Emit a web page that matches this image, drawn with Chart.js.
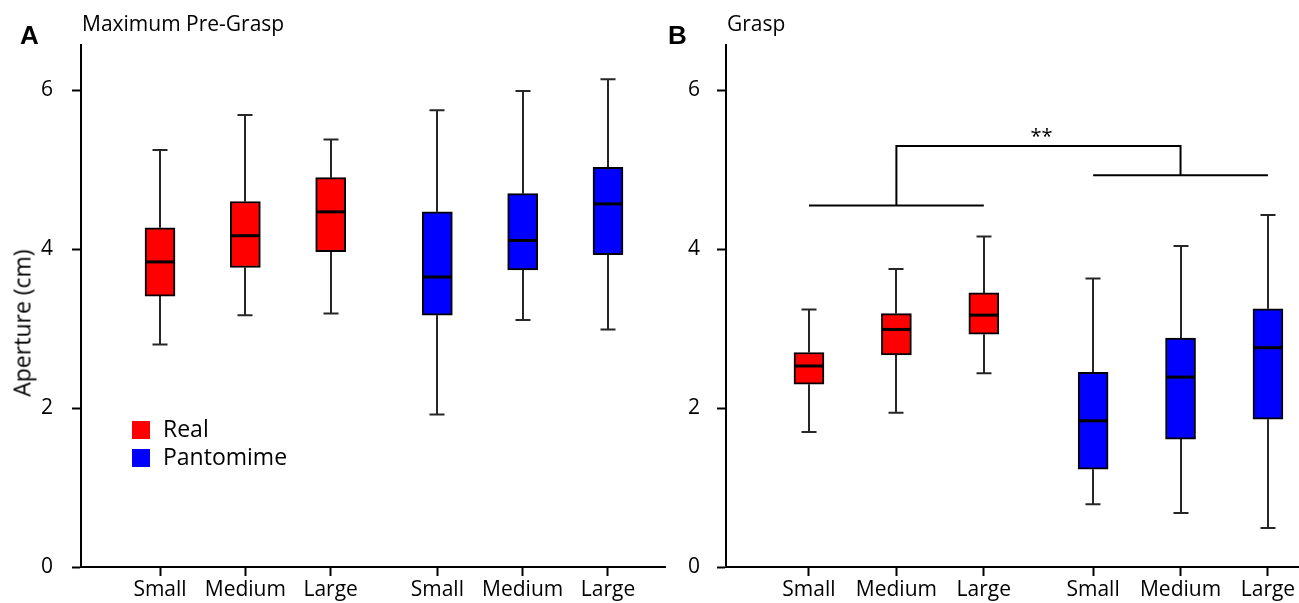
<!DOCTYPE html>
<html>
<head>
<meta charset="utf-8">
<script src="https://cdn.jsdelivr.net/npm/chart.js@4/dist/chart.umd.min.js"></script>
<style>
  html, body { margin: 0; padding: 0; background: #fff; }
  body { width: 1299px; height: 603px; position: relative; overflow: hidden; font-family: "Open Sans", sans-serif; color: #000; }
  canvas { position: absolute; top: 0; }
  #chartA { left: 0; }
  #chartB { left: 650px; }
  .txt { position: absolute; white-space: nowrap; line-height: 1; }
  .panel-letter { font-family: "Liberation Sans", Arial, sans-serif; font-weight: bold; font-size: 26px; }
  .panel-title { font-size: 21px; }
  .ytitle { font-size: 23px; transform: translate(-50%, -50%) rotate(-90deg); }
  .leg-sw { position: absolute; width: 18px; height: 18px; }
  .leg-tx { font-size: 23px; }
</style>
</head>
<body>
<canvas id="chartA" width="680" height="603"></canvas>
<canvas id="chartB" width="649" height="603"></canvas>

<div class="txt panel-letter" style="left:20px; top:22px;">A</div>
<div class="txt panel-title" style="left:82px; top:13px;">Maximum Pre-Grasp</div>
<div class="txt panel-letter" style="left:668px; top:22px;">B</div>
<div class="txt panel-title" style="left:727px; top:13px;">Grasp</div>
<div class="txt ytitle" style="left:22px; top:323px;">Aperture (cm)</div>
<div id="legend"></div>

<script>
// ---------------- DATA ----------------
const categories = ['Small', 'Medium', 'Large', 'Small', 'Medium', 'Large'];
const categoryPositions = [1, 2, 3, 4.25, 5.25, 6.25];
const realPositions = [1, 2, 3];
const pantomimePositions = [4.25, 5.25, 6.25];
const yTicks = [0, 2, 4, 6];
const yMin = 0;
const yMax = 6.57;
const seriesNames = ['Real', 'Pantomime'];
const seriesColors = ['#ff0000', '#0000ff'];

// Panel A: Maximum Pre-Grasp
const preGraspRealMin    = [2.80, 3.17, 3.19];
const preGraspRealQ1     = [3.41, 3.77, 3.97];
const preGraspRealMedian = [3.84, 4.17, 4.47];
const preGraspRealQ3     = [4.27, 4.60, 4.90];
const preGraspRealMax    = [5.25, 5.69, 5.38];

const preGraspPantMin    = [1.92, 3.11, 2.99];
const preGraspPantQ1     = [3.17, 3.74, 3.93];
const preGraspPantMedian = [3.65, 4.11, 4.57];
const preGraspPantQ3     = [4.47, 4.70, 5.03];
const preGraspPantMax    = [5.75, 5.99, 6.14];

// Panel B: Grasp
const graspRealMin    = [1.70, 1.94, 2.44];
const graspRealQ1     = [2.30, 2.67, 2.93];
const graspRealMedian = [2.53, 2.99, 3.17];
const graspRealQ3     = [2.70, 3.19, 3.45];
const graspRealMax    = [3.24, 3.75, 4.16];

const graspPantMin    = [0.79, 0.68, 0.49];
const graspPantQ1     = [1.23, 1.61, 1.86];
const graspPantMedian = [1.84, 2.39, 2.76];
const graspPantQ3     = [2.45, 2.88, 3.25];
const graspPantMax    = [3.63, 4.04, 4.43];

// Significance bracket (panel B), in data units
const bracketLeftSpan  = [1, 3];
const bracketLeftY     = 4.55;
const bracketLeftStem  = 2;
const bracketRightSpan = [4.25, 6.25];
const bracketRightY    = 4.93;
const bracketRightStem = 5.25;
const bracketTopY      = 5.30;
const sigLabel  = '**';
const sigLabelX = 3.66;
const sigLabelY = 5.34;

// ---------------- CHARTS ----------------
Chart.defaults.font.family = "'Open Sans', sans-serif";
Chart.defaults.color = '#000';

function makeDataset(label, color, positions, mins, q1, med, q3, maxs) {
  return {
    label: label,
    data: positions.map((p, i) => ({ x: p, y: [q1[i], q3[i]] })),
    backgroundColor: color,
    borderColor: '#000',
    borderWidth: 2,
    borderSkipped: false,
    barThickness: 30,
    grouped: false,
    whiskerMin: mins,
    whiskerMax: maxs,
    medians: med
  };
}

const boxWhiskerPlugin = {
  id: 'boxWhisker',
  beforeDatasetsDraw(chart) {
    const ctx = chart.ctx;
    const xs = chart.scales.x, ys = chart.scales.y;
    ctx.save();
    ctx.strokeStyle = '#262626';
    ctx.lineWidth = 2;
    chart.data.datasets.forEach(ds => {
      ds.data.forEach((d, i) => {
        const x = Math.round(xs.getPixelForValue(d.x));
        const yLo = ys.getPixelForValue(d.y[0]);
        const yHi = ys.getPixelForValue(d.y[1]);
        const yMinP = ys.getPixelForValue(ds.whiskerMin[i]);
        const yMaxP = ys.getPixelForValue(ds.whiskerMax[i]);
        ctx.beginPath();
        ctx.moveTo(x, yHi); ctx.lineTo(x, yMaxP);
        ctx.moveTo(x - 7.5, yMaxP); ctx.lineTo(x + 7.5, yMaxP);
        ctx.moveTo(x, yLo); ctx.lineTo(x, yMinP);
        ctx.moveTo(x - 7.5, yMinP); ctx.lineTo(x + 7.5, yMinP);
        ctx.stroke();
      });
    });
    ctx.restore();
  },
  afterDatasetsDraw(chart) {
    const ctx = chart.ctx;
    const xs = chart.scales.x, ys = chart.scales.y;
    ctx.save();
    ctx.strokeStyle = '#000';
    ctx.lineWidth = 3;
    chart.data.datasets.forEach(ds => {
      ds.data.forEach((d, i) => {
        const x = xs.getPixelForValue(d.x);
        const y = ys.getPixelForValue(ds.medians[i]);
        ctx.beginPath();
        ctx.moveTo(x - 14, y); ctx.lineTo(x + 14, y);
        ctx.stroke();
      });
    });
    const br = chart.options.plugins.boxWhisker && chart.options.plugins.boxWhisker.bracket;
    if (br) {
      const px = v => xs.getPixelForValue(v);
      const py = v => ys.getPixelForValue(v);
      ctx.lineWidth = 2;
      ctx.strokeStyle = '#000';
      ctx.beginPath();
      ctx.moveTo(px(bracketLeftSpan[0]), py(bracketLeftY));
      ctx.lineTo(px(bracketLeftSpan[1]), py(bracketLeftY));
      ctx.moveTo(px(bracketLeftStem), py(bracketLeftY));
      ctx.lineTo(px(bracketLeftStem), py(bracketTopY));
      ctx.lineTo(px(bracketRightStem), py(bracketTopY));
      ctx.lineTo(px(bracketRightStem), py(bracketRightY));
      ctx.moveTo(px(bracketRightSpan[0]), py(bracketRightY));
      ctx.lineTo(px(bracketRightSpan[1]), py(bracketRightY));
      ctx.stroke();
      ctx.fillStyle = '#000';
      ctx.font = "20px 'Open Sans', sans-serif";
      ctx.textAlign = 'center';
      ctx.textBaseline = 'alphabetic';
      ctx.fillText(sigLabel, px(sigLabelX), py(sigLabelY));
    }
    ctx.restore();
  }
};

function makeChart(canvasId, datasets, cfg) {
  return new Chart(document.getElementById(canvasId), {
    type: 'bar',
    data: { datasets: datasets },
    plugins: [boxWhiskerPlugin],
    options: {
      responsive: false,
      animation: false,
      devicePixelRatio: 1,
      layout: { padding: { left: 0, top: 45, right: cfg.rightPad, bottom: 0 } },
      plugins: {
        legend: { display: false },
        tooltip: { enabled: false },
        title: { display: false },
        boxWhisker: { bracket: cfg.bracket }
      },
      scales: {
        x: {
          type: 'linear',
          offset: false,
          min: cfg.xMin,
          max: cfg.xMax,
          afterBuildTicks: (scale) => { scale.ticks = categoryPositions.map(v => ({ value: v })); },
          afterFit: (scale) => { scale.height = 36; },
          ticks: {
            callback: (value, index) => categories[index],
            font: { size: 21 },
            color: '#000',
            padding: 1,
            maxRotation: 0,
            autoSkip: false
          },
          grid: { offset: false, drawOnChartArea: false, drawTicks: true, tickLength: 9, tickWidth: 2, tickColor: '#000' },
          border: { display: true, color: '#000', width: 2 }
        },
        y: {
          type: 'linear',
          min: yMin,
          max: yMax,
          afterBuildTicks: (scale) => { scale.ticks = yTicks.map(v => ({ value: v })); },
          afterFit: (scale) => { scale.width = cfg.yWidth; },
          ticks: { font: { size: 21 }, color: '#000', padding: cfg.yPad },
          grid: { drawOnChartArea: false, drawTicks: true, tickLength: 9, tickWidth: 2, tickColor: '#000' },
          border: { display: true, color: '#000', width: 2 }
        }
      }
    }
  });
}

makeChart('chartA', [
  makeDataset(seriesNames[0], seriesColors[0], realPositions, preGraspRealMin, preGraspRealQ1, preGraspRealMedian, preGraspRealQ3, preGraspRealMax),
  makeDataset(seriesNames[1], seriesColors[1], pantomimePositions, preGraspPantMin, preGraspPantQ1, preGraspPantMedian, preGraspPantQ3, preGraspPantMax)
], { xMin: 0.074, xMax: 6.918, yWidth: 81, yPad: 19, rightPad: 15, bracket: false });

makeChart('chartB', [
  makeDataset(seriesNames[0], seriesColors[0], realPositions, graspRealMin, graspRealQ1, graspRealMedian, graspRealQ3, graspRealMax),
  makeDataset(seriesNames[1], seriesColors[1], pantomimePositions, graspPantMin, graspPantQ1, graspPantMedian, graspPantQ3, graspPantMax)
], { xMin: 0.051, xMax: 6.605, yWidth: 76, yPad: 17, rightPad: 0, bracket: true });

// Legend (panel A)
const legend = document.getElementById('legend');
const legendTops = [421, 449];
seriesNames.forEach((name, i) => {
  const sw = document.createElement('div');
  sw.className = 'leg-sw';
  sw.style.left = '132px';
  sw.style.top = legendTops[i] + 'px';
  sw.style.background = seriesColors[i];
  legend.appendChild(sw);
  const tx = document.createElement('div');
  tx.className = 'txt leg-tx';
  tx.style.left = '163px';
  tx.style.top = (legendTops[i] - 4) + 'px';
  tx.textContent = name;
  legend.appendChild(tx);
});
</script>
</body>
</html>
